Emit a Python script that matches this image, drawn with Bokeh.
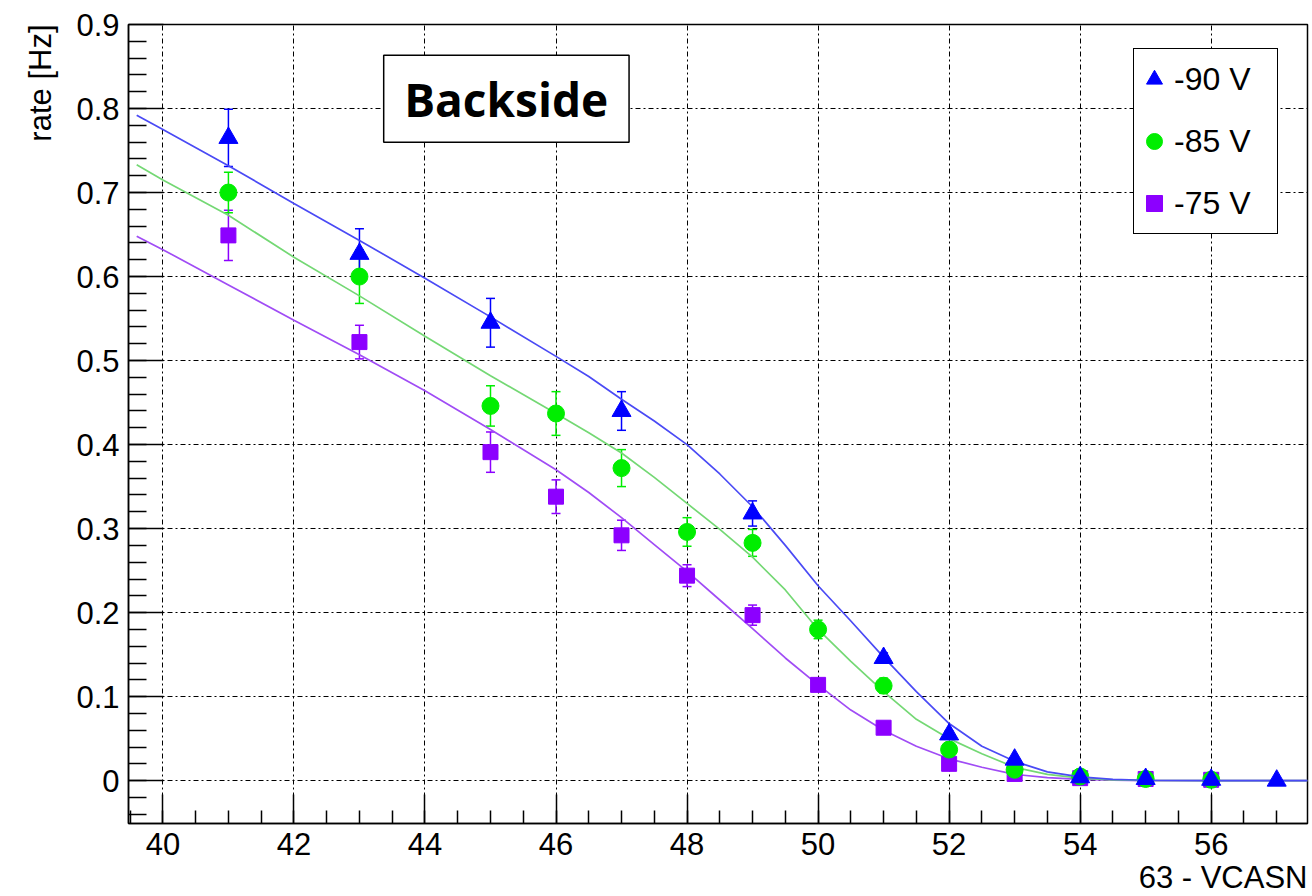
import numpy as np
from bokeh.plotting import figure
from bokeh.models import (Range1d, FixedTicker, ColumnDataSource, Whisker, TeeHead,
                          Legend, LegendItem, Label, BoxAnnotation, Title)
from bokeh.embed import file_html
from bokeh.resources import INLINE

# ---------------- data ----------------
series_names = ["-90 V", "-85 V", "-75 V"]

x_m90 = [41, 43, 45, 47, 49, 51, 52, 53, 54, 55, 56, 57]
y_m90 = [0.765, 0.627, 0.545, 0.440, 0.318, 0.146, 0.055, 0.025, 0.004, 0.002, 0.001, 0.0]
e_m90 = [0.034, 0.030, 0.029, 0.023, 0.015, 0.006, 0.004, 0.002, 0.001, 0.001, 0.001, 0.001]

x_m85 = [41, 43, 45, 46, 47, 48, 49, 50, 51, 52, 53, 54, 55, 56]
y_m85 = [0.700, 0.600, 0.446, 0.437, 0.372, 0.296, 0.283, 0.180, 0.113, 0.037, 0.013, 0.005, 0.002, 0.001]
e_m85 = [0.024, 0.032, 0.024, 0.026, 0.022, 0.017, 0.016, 0.011, 0.009, 0.005, 0.003, 0.002, 0.001, 0.001]

x_m75 = [41, 43, 45, 46, 47, 48, 49, 50, 51, 52, 53, 54, 55, 56]
y_m75 = [0.649, 0.522, 0.391, 0.338, 0.292, 0.244, 0.197, 0.114, 0.063, 0.020, 0.008, 0.003, 0.002, 0.001]
e_m75 = [0.030, 0.020, 0.024, 0.020, 0.018, 0.013, 0.012, 0.005, 0.004, 0.003, 0.002, 0.001, 0.001, 0.001]

# fitted curves
fit_x = [39.6, 40, 41, 42, 43, 44, 45, 46, 46.5, 47, 47.5, 48, 48.5, 49, 49.5, 50, 50.5,
         51, 51.5, 52, 52.5, 53, 53.5, 54, 54.5, 55, 56, 57, 57.47]
fit_m90 = [0.792, 0.775, 0.732, 0.687, 0.643, 0.598, 0.552, 0.505, 0.481, 0.454, 0.428, 0.400,
           0.365, 0.326, 0.280, 0.232, 0.190, 0.147, 0.106, 0.068, 0.041, 0.023, 0.0105,
           0.0045, 0.0015, 0.0005, 0.0, 0.0, 0.0]
fit_m85 = [0.733, 0.715, 0.673, 0.623, 0.577, 0.529, 0.482, 0.437, 0.414, 0.390, 0.361, 0.330,
           0.299, 0.266, 0.227, 0.180, 0.142, 0.106, 0.073, 0.050, 0.032, 0.016, 0.0075,
           0.003, 0.001, 0.0003, 0.0, 0.0, 0.0]
fit_m75 = [0.648, 0.632, 0.590, 0.548, 0.507, 0.464, 0.418, 0.370, 0.343, 0.313, 0.281, 0.249,
           0.215, 0.181, 0.146, 0.114, 0.084, 0.060, 0.041, 0.026, 0.016, 0.0075, 0.0035,
           0.0015, 0.0005, 0.0, 0.0, 0.0, 0.0]

x_tick_values = [40, 42, 44, 46, 48, 50, 52, 54, 56]
x_tick_labels = ["40", "42", "44", "46", "48", "50", "52", "54", "56"]
y_tick_values = [0, 0.1, 0.2, 0.3, 0.4, 0.5, 0.6, 0.7, 0.8, 0.9]
y_tick_labels = ["0", "0.1", "0.2", "0.3", "0.4", "0.5", "0.6", "0.7", "0.8", "0.9"]

x_label = "63 - VCASN"
y_label = "rate [Hz]"
title_box_text = "Backside"

# ---------------- styles ----------------
marker_colors = ["#0000FF", "#00EE00", "#8C00FF"]
line_colors = ["#4A4AF5", "#74D874", "#A04CF5"]
markers = ["triangle", "circle", "square"]
marker_sizes = [19, 17, 15]
FONT = "Liberation Sans"

p = figure(width=1310, height=894,
           x_range=Range1d(39.475, 57.47), y_range=Range1d(-0.051, 0.9),
           output_backend="svg", toolbar_location=None,
           min_border_left=128, min_border_right=3, min_border_top=24, min_border_bottom=66)
p.background_fill_color = "white"
p.border_fill_color = "white"
p.outline_line_color = "black"
p.outline_line_width = 1.5
p.outline_line_alpha = 1.0

xt = FixedTicker(ticks=x_tick_values, minor_ticks=np.round(np.arange(39.5, 57.6, 0.5), 2).tolist())
yt = FixedTicker(ticks=y_tick_values, minor_ticks=np.round(np.arange(-0.04, 0.9, 0.02), 2).tolist())
p.xaxis[0].ticker = xt
p.yaxis[0].ticker = yt
p.xgrid[0].ticker = xt
p.ygrid[0].ticker = yt
p.xaxis.major_label_overrides = {v: l for v, l in zip(x_tick_values, x_tick_labels)}
p.yaxis.major_label_overrides = {v: l for v, l in zip(y_tick_values, y_tick_labels)}

for ax in (p.xaxis, p.yaxis):
    ax.axis_line_width = 1.5
    ax.axis_line_color = "black"
    ax.major_tick_line_width = 1.5
    ax.minor_tick_line_width = 1.5
    ax.major_tick_line_color = "black"
    ax.minor_tick_line_color = "black"
    ax.major_tick_out = 0
    ax.minor_tick_out = 0
    ax.major_label_text_font = FONT
    ax.major_label_text_font_size = "31px"
    ax.major_label_text_color = "black"
p.xaxis.major_tick_in = 29
p.xaxis.minor_tick_in = 13
p.xaxis.major_label_standoff = 9
p.yaxis.major_tick_in = 35
p.yaxis.minor_tick_in = 18
p.yaxis.major_label_standoff = 9

# axis titles, ROOT style: at the far end of each axis
p.add_layout(Title(text=x_label, align="right", text_font=FONT, text_font_size="31px",
                   text_font_style="normal", text_color="black", standoff=0), "below")
p.add_layout(Title(text=y_label, align="right", text_font=FONT, text_font_size="31px",
                   text_font_style="normal", text_color="black", standoff=32), "left")

for g in (p.xgrid, p.ygrid):
    g.grid_line_color = "black"
    g.grid_line_width = 1
    g.grid_line_dash = "5 3 2 3"
    g.grid_line_alpha = 1.0

series = [(x_m75, y_m75, e_m75, fit_m75, 2),
          (x_m85, y_m85, e_m85, fit_m85, 1),
          (x_m90, y_m90, e_m90, fit_m90, 0)]
scatter_r = {}
for xs, ys, es, fit, i in series:
    p.line(fit_x, fit, line_color=line_colors[i], line_width=1.7)
    src = ColumnDataSource(dict(x=xs, y=ys,
                                upper=[a + b for a, b in zip(ys, es)],
                                lower=[a - b for a, b in zip(ys, es)]))
    w = Whisker(source=src, base="x", upper="upper", lower="lower",
                line_color=marker_colors[i], line_width=1.5,
                upper_head=TeeHead(size=9, line_color=marker_colors[i], line_width=1.5),
                lower_head=TeeHead(size=9, line_color=marker_colors[i], line_width=1.5))
    p.add_layout(w)
    r = p.scatter("x", "y", source=src, marker=markers[i], size=marker_sizes[i],
                  fill_color=marker_colors[i], line_color=marker_colors[i], line_width=1)
    scatter_r[i] = r

legend = Legend(items=[LegendItem(label=series_names[i], renderers=[scatter_r[i]]) for i in range(3)],
                location=(1005, 589), orientation="vertical",
                padding=0, margin=0, spacing=2,
                glyph_width=40, glyph_height=60, label_height=60, label_width=103,
                label_standoff=0,
                label_text_font=FONT, label_text_font_size="32px", label_text_color="black",
                border_line_color="black", border_line_width=1.5, border_line_alpha=1.0,
                background_fill_color="white", background_fill_alpha=1.0)
p.add_layout(legend)

box = BoxAnnotation(left=43.37, right=47.115, bottom=0.7598, top=0.8633,
                    fill_color="white", fill_alpha=1.0,
                    line_color="black", line_width=1.5, line_alpha=1.0)
p.add_layout(box)
p.add_layout(Label(x=45.24, y=0.811, text=title_box_text, text_font="Open Sans",
                   text_font_style="bold", text_font_size="46px", text_color="black",
                   text_align="center", text_baseline="middle"))

open("out.html", "w").write(file_html(p, INLINE))
